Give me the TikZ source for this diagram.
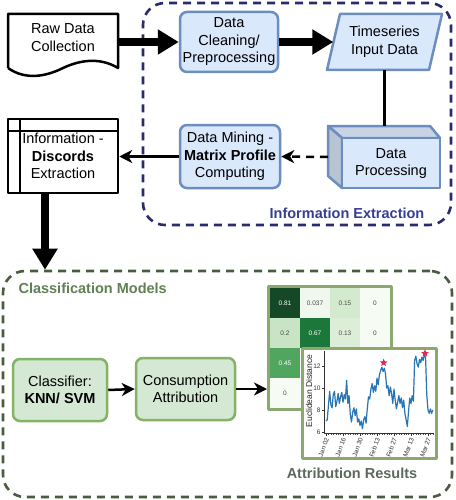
\documentclass[tikz,border=0pt]{standalone}
\usepackage{fontspec}
\setmainfont{Liberation Sans}
\usepackage{xcolor}
\usepackage{tikz}
\usetikzlibrary{arrows.meta,calc,shapes.geometric}

\definecolor{procfill}{RGB}{218,232,252}
\definecolor{procdraw}{RGB}{108,142,191}
\definecolor{proctop}{RGB}{200,212,228}
\definecolor{procside}{RGB}{184,196,212}
\definecolor{clsfill}{RGB}{213,232,212}
\definecolor{clsdraw}{RGB}{130,179,102}
\definecolor{infoline}{RGB}{42,42,110}
\definecolor{infotext}{RGB}{52,62,150}
\definecolor{clsline}{RGB}{72,92,62}
\definecolor{clstext}{RGB}{96,128,84}
\definecolor{restext}{RGB}{92,104,92}
\definecolor{frame}{RGB}{138,168,112}
\definecolor{series}{RGB}{40,116,180}
\definecolor{peak}{RGB}{222,40,80}
\definecolor{h81}{RGB}{20,72,38}
\definecolor{h67}{RGB}{28,120,58}
\definecolor{h45}{RGB}{80,165,95}
\definecolor{h20}{RGB}{200,228,196}
\definecolor{h15}{RGB}{212,234,206}
\definecolor{h13}{RGB}{220,238,215}
\definecolor{h037}{RGB}{240,247,237}
\definecolor{h0}{RGB}{246,251,244}

\begin{document}
\begin{tikzpicture}[x=1pt,y=-1pt,line join=round]
  % `process' is used for the blue boxes, `classbox' for the green ones.
  % `surround' is used for the two dashed background regions.
  % `bigarrow' is the thick block arrow, `smallarrow' the thin one.
  % `cell' is used for the squares of the confusion matrix.
  \tikzstyle{txt} = [font=\fontsize{14.5}{17.5}\selectfont,align=center]
  \tikzstyle{process} = [txt,draw=procdraw,fill=procfill,line width=2.5pt,rounded corners=7pt,minimum width=98pt,minimum height=60pt,inner sep=1pt]
  \tikzstyle{classbox} = [process,draw=clsdraw,fill=clsfill,minimum width=94pt,minimum height=62pt]
  \tikzstyle{surround} = [line width=2.6pt,dash pattern=on 8pt off 6pt,rounded corners=22pt]
  \tikzstyle{bigarrow} = [line width=8pt,-{Triangle[length=21pt,width=24pt]}]
  \tikzstyle{smallarrow} = [line width=2.5pt,-{Stealth[length=13pt,width=13pt,inset=4pt]}]
  \tikzstyle{regiontitle} = [font=\fontsize{14.5}{17}\selectfont\bfseries]
  \tikzstyle{cell} = [minimum size=30pt,inner sep=0pt,font=\fontsize{6.5}{7}\selectfont]
  \tikzstyle{ticklab} = [font=\fontsize{6.5}{7}\selectfont,inner sep=1pt,text=black!80]
  \useasboundingbox (0,0) rectangle (455,500);
  %
  % Background regions.
  \node[surround,draw=infoline,minimum width=308pt,minimum height=222pt] (extract) at (297,114) {};
  \node[surround,draw=clsline,minimum width=449pt,minimum height=226pt] (models) at (227.5,384) {};
  \node[regiontitle,text=infotext] (extracttitle) at (347,213) {Information Extraction};
  \node[regiontitle,text=clstext,anchor=west] (modelstitle) at (15,288) {Classification Models};
  \node[regiontitle,text=restext] (restitle) at (352,473) {Attribution Results};
  %
  % Raw data (document shape).
  \draw[line width=2.5pt,fill=white] (8,68) -- (8,14) -- (118,14) -- (118,68)
    .. controls (100,57) and (80,60) .. (63,68) .. controls (45,77) and (25,80) .. (8,68);
  \node[txt] (raw) at (63,37.5) {Raw Data\\Collection};
  \coordinate (rawout) at (118,42);
  %
  \node[process] (clean) at (229,42) {Data\\Cleaning/\\Preprocessing};
  %
  % Timeseries input (parallelogram).
  \draw[line width=2.5pt,draw=procdraw,fill=procfill] (340,14) -- (442,14) -- (429,70) -- (327,70) -- cycle;
  \node[txt,minimum width=102pt,minimum height=56pt,inner sep=0pt] (ts) at (384.5,42) {Timeseries\\Input Data};
  %
  % Data processing (cube).
  \draw[line width=2.5pt,draw=procdraw,fill=proctop] (328,126) -- (430,126) -- (440,138) -- (342,138) -- cycle;
  \draw[line width=2.5pt,draw=procdraw,fill=procside] (328,126) -- (342,138) -- (342,188) -- (328,176) -- cycle;
  \draw[line width=2.5pt,draw=procdraw,fill=procfill] (342,138) rectangle (440,188);
  \node[txt] (dp) at (391,163.5) {Data\\Processing};
  \coordinate (dptop) at (384.5,126);
  \coordinate (dpleft) at (328,157);
  %
  \node[process,minimum width=100pt,minimum height=63pt] (mine) at (230,156.5) {Data Mining -\\\textbf{Matrix Profile}\\Computing};
  %
  % Discords (internal storage shape).
  \node[txt,draw,line width=2.5pt,fill=white,minimum width=110pt,minimum height=74pt,inner sep=0pt] (info) at (63,156)
    {Information -\\\textbf{Discords}\\Extraction};
  \draw[line width=2.5pt] ($(info.north west)+(13,0)$) -- ($(info.south west)+(13,0)$)
    ($(info.north west)+(0,13)$) -- ($(info.north east)+(0,13)$);
  \coordinate (infoout) at ($(info.south west)!0.34!(info.south east)$);
  %
  \node[classbox] (knn) at (60,390) {Classifier:\\\textbf{KNN/ SVM}};
  \node[classbox,minimum width=99pt] (attr) at (185.5,389) {Consumption\\Attribution};
  %
  % Confusion matrix.
  \node[draw=frame,line width=3pt,fill=white,minimum width=123pt,minimum height=123pt] (heat) at (330,348) {};
  \foreach \r/\c/\v/\col/\tc in {0/0/0.81/h81/white, 0/1/0.037/h037/black!70, 0/2/0.15/h15/black!70, 0/3/0/h0/black!70,
      1/0/0.2/h20/black!70, 1/1/0.67/h67/white, 1/2/0.13/h13/black!70, 1/3/0/h0/black!70,
      2/0/0.45/h45/white, 3/0/0/h0/black!70}
    \node[cell,fill=\col,text=\tc] (c\r\c) at ({285+30*\c},{303+30*\r}) {\v};
  %
  % Distance plot.
  \node[draw=frame,line width=3pt,fill=white,minimum width=134pt,minimum height=110pt] (curve) at (369.5,403.5) {};
  \node[font=\fontsize{8.5}{9}\selectfont,rotate=90,text=black!85] (ylab) at (309,391) {Euclidean Distance};
  \begin{scope}[shift={(326,432)},x=1.214pt,y=11pt,shift={(0,-6)}]
    \draw[line width=0.7pt,black!80] (-1,13.4) -- (-1,5.85) -- (89,5.85);
    \foreach \v in {6,8,10,12} {
      \draw[line width=0.6pt,black!80] (-1,\v) -- (-3,\v);
      \node[ticklab,anchor=east] at (-3.5,\v) {\v};
    }
    \foreach \d in {0,2,...,88}
      \draw[line width=0.4pt,black!70] (\d,5.85) -- (\d,5.7);
    \foreach \d/\t in {0/Jan 02,14/Jan 16,28/Jan 30,42/Feb 13,56/Feb 27,70/Mar 13,84/Mar 27} {
      \draw[line width=0.6pt,black!80] (\d,5.85) -- (\d,5.6);
      \node[ticklab,anchor=east,rotate=70] at ({\d+1.2},5.55) {\t};
    }
    \draw[series,line width=1.2pt] plot coordinates {
      (0,7.0) (1,7.1) (2,8.4) (3,9.7) (4,8.5) (5,8.2) (6,9.4) (7,9.7) (8,8.3) (9,8.8)
      (10,9.5) (11,8.6) (12,9.2) (13,9.6) (14,8.7) (15,9.4) (16,9.0) (17,10.7) (18,8.6) (19,9.3)
      (20,7.6) (21,6.9) (22,7.8) (23,8.2) (24,7.5) (25,8.1) (26,6.9) (27,7.2) (28,6.6) (29,7.0)
      (30,6.3) (31,7.1) (32,7.4) (33,6.8) (34,8.1) (35,9.2) (36,9.0) (37,9.9) (38,10.4) (39,9.6)
      (40,10.2) (41,9.7) (42,10.9) (43,10.3) (44,11.2) (45,11.6) (46,11.9) (47,11.5) (48,11.8) (49,11.3)
      (50,10.0) (51,10.2) (52,9.3) (53,10.1) (54,9.5) (55,8.6) (56,9.9) (57,8.9) (58,8.1) (59,8.7)
      (60,9.3) (61,8.6) (62,9.1) (63,8.2) (64,8.9) (65,7.7) (66,7.1) (67,6.5) (68,7.9) (69,9.1)
      (70,8.6) (71,9.3) (72,8.8) (73,12.5) (74,12.9) (75,12.2) (76,11.9) (77,12.6) (78,12.3) (79,12.8)
      (80,12.5) (81,13.0) (82,12.8) (83,9.4) (84,8.0) (85,7.7) (86,8.1) (87,7.7) (88,8.0)};
    \node[star,star points=5,star point ratio=2.2,fill=peak,minimum size=8pt,inner sep=0pt] (peak1) at (47.5,12.3) {};
    \node[star,star points=5,star point ratio=2.2,fill=peak,minimum size=8pt,inner sep=0pt] (peak2) at (81.5,13.15) {};
  \end{scope}
  %
  % Connectors.
  \draw[bigarrow] (rawout) -- (clean.west);
  \draw[bigarrow] (clean.east) -- (ts.west);
  \draw[line width=2.5pt] (ts.south) -- (dptop);
  \draw[smallarrow,dash pattern=on 8pt off 6pt] (dpleft) -- (mine.east);
  \draw[smallarrow] (mine.west) -- (mine.west -| info.east);
  \draw[bigarrow] (infoout) -- (infoout |- models.north);
  \draw[smallarrow] (knn.east) -- (attr.west);
  \draw[smallarrow] (attr.east) -- (attr.east -| heat.west);
\end{tikzpicture}
\end{document}
